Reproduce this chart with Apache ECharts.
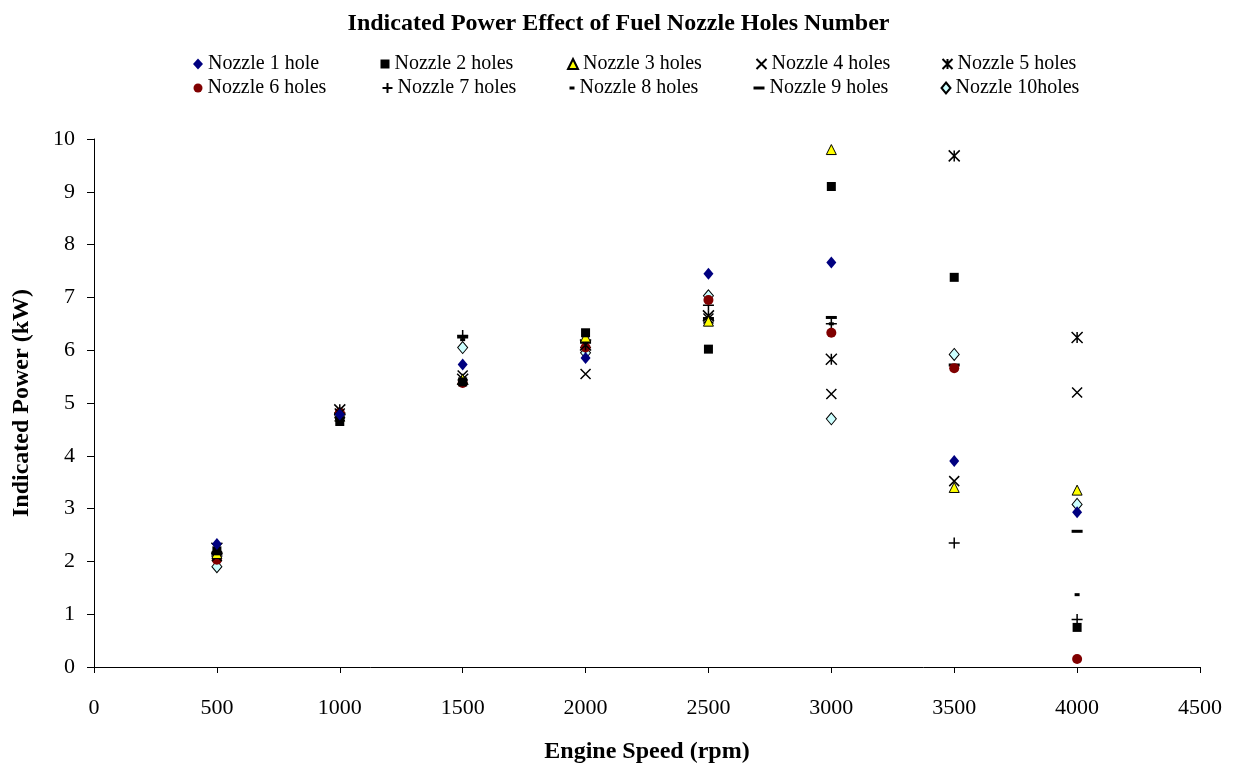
<!DOCTYPE html>
<html><head><meta charset="utf-8">
<script src="https://cdn.jsdelivr.net/npm/echarts@6/dist/echarts.min.js"></script>
<style>html,body{margin:0;padding:0;background:#fff}#c{width:1237px;height:769px}</style>
</head><body><div id="c"></div>
<script>
const speeds = [500, 1000, 1500, 2000, 2500, 3000, 3500, 4000];
const names = ['Nozzle 1 hole','Nozzle 2 holes','Nozzle 3 holes','Nozzle 4 holes','Nozzle 5 holes','Nozzle 6 holes','Nozzle 7 holes','Nozzle 8 holes','Nozzle 9 holes','Nozzle 10holes'];
const n1  = [2.33, 4.78, 5.73, 5.85, 7.45, 7.66, 3.90, 2.93];
const n2  = [2.20, 4.65, 5.40, 6.33, 6.02, 9.10, 7.38, 0.75];
const n3  = [2.15, 4.75, 5.45, 6.25, 6.55, 9.80, 3.40, 3.35];
const n4  = [2.10, 4.80, 5.52, 5.55, 6.60, 5.17, 3.52, 5.20];
const n5  = [2.25, 4.87, 5.45, 6.10, 6.65, 5.83, 9.68, 6.24];
const n6  = [2.03, 4.82, 5.38, 6.05, 6.95, 6.33, 5.66, 0.15];
const n7  = [2.10, 4.80, 6.28, 6.05, 6.85, 6.50, 2.35, 0.90];
const n8  = [2.10, 4.75, 6.20, 6.10, 6.60, 6.50, 5.70, 1.37];
const n9  = [2.15, 4.80, 6.25, 6.15, 6.60, 6.62, 5.72, 2.57];
const n10 = [1.90, 4.73, 6.05, 5.95, 7.03, 4.70, 5.92, 3.08];
const xTicks = [0,500,1000,1500,2000,2500,3000,3500,4000,4500];
const yTicks = [0,1,2,3,4,5,6,7,8,9,10];

const values = [n1,n2,n3,n4,n5,n6,n7,n8,n9,n10];
const styles = [
  {symbol:'diamond', size:[10,12], item:{color:'#000080'}},
  {symbol:'rect', size:9, item:{color:'#000000'}},
  {symbol:'triangle', size:10, item:{color:'#FFFF00', borderColor:'#000000', borderWidth:1}},
  {symbol:'path://M0,0L10,10M10,0L0,10', size:10, item:{color:'none', borderColor:'#000000', borderWidth:1.5}},
  {symbol:'path://M0,0L10,10M10,0L0,10M5,0L5,10', size:11, item:{color:'none', borderColor:'#000000', borderWidth:1.5}},
  {symbol:'circle', size:10, item:{color:'#800000'}},
  {symbol:'path://M5,0L5,10M0,5L10,5', size:11, item:{color:'none', borderColor:'#000000', borderWidth:1.5}},
  {symbol:'rect', size:[5,3], item:{color:'#000000'}},
  {symbol:'rect', size:[11,3], item:{color:'#000000'}},
  {symbol:'diamond', size:[10,12], item:{color:'#CCFFFF', borderColor:'#000000', borderWidth:1}}
];
const legendIcon = [[10,11],[9,9],[10,10],[10,10],[10,10],[9,9],[10,10],[5,3],[11,3],[9,11]];
const FONT = '"Liberation Serif", "Times New Roman", serif';
const series = names.map((nm,i)=>({
  name: nm, type:'scatter', symbol: styles[i].symbol, symbolSize: styles[i].size,
  itemStyle: Object.assign({opacity:1}, styles[i].item), z: 10 - i,
  emphasis:{disabled:true},
  data: speeds.map((s,j)=>[s, values[i][j]])
}));
const legendX = [193, 380, 567, 754, 940];
const legends = names.map((nm,i)=>({
  data:[nm], left: legendX[i%5] + (10 - legendIcon[i][0]) / 2, top: i<5 ? 54 : 78,
  itemWidth: legendIcon[i][0], itemHeight: legendIcon[i][1], itemGap: 4,
  textStyle:{fontFamily:FONT, fontSize:20, color:'#000'}, padding:0
}));
const chart = echarts.init(document.getElementById('c'), null, {renderer:'canvas'});
chart.setOption({
  animation:false,
  backgroundColor:'#fff',
  title:{text:'Indicated Power Effect of Fuel Nozzle Holes Number', left:'center', top:7,
    textStyle:{fontFamily:FONT, fontSize:24, fontWeight:'bold', color:'#000'}},
  legend: legends,
  grid:{left:94, right:37, top:139, bottom:100},
  xAxis:{type:'value', min:0, max:4500, interval:500,
    name:'Engine Speed (rpm)', nameLocation:'middle', nameGap:73,
    nameTextStyle:{fontFamily:FONT, fontSize:24, fontWeight:'bold', color:'#000'},
    axisLine:{lineStyle:{color:'#000', width:1}},
    axisTick:{show:true, inside:false, length:6, lineStyle:{color:'#000'}},
    axisLabel:{fontFamily:FONT, fontSize:22, color:'#000', margin:30, formatter:(v)=>String(v)},
    splitLine:{show:false}},
  yAxis:{type:'value', min:0, max:10, interval:1,
    name:'Indicated Power (kW)', nameLocation:'middle', nameGap:60,
    nameTextStyle:{fontFamily:FONT, fontSize:24, fontWeight:'bold', color:'#000'},
    axisLine:{show:true, lineStyle:{color:'#000', width:1}},
    axisTick:{show:true, inside:false, length:7, lineStyle:{color:'#000'}},
    axisLabel:{fontFamily:FONT, fontSize:22, color:'#000', margin:19},
    splitLine:{show:false}},
  series: series
});
</script></body></html>
